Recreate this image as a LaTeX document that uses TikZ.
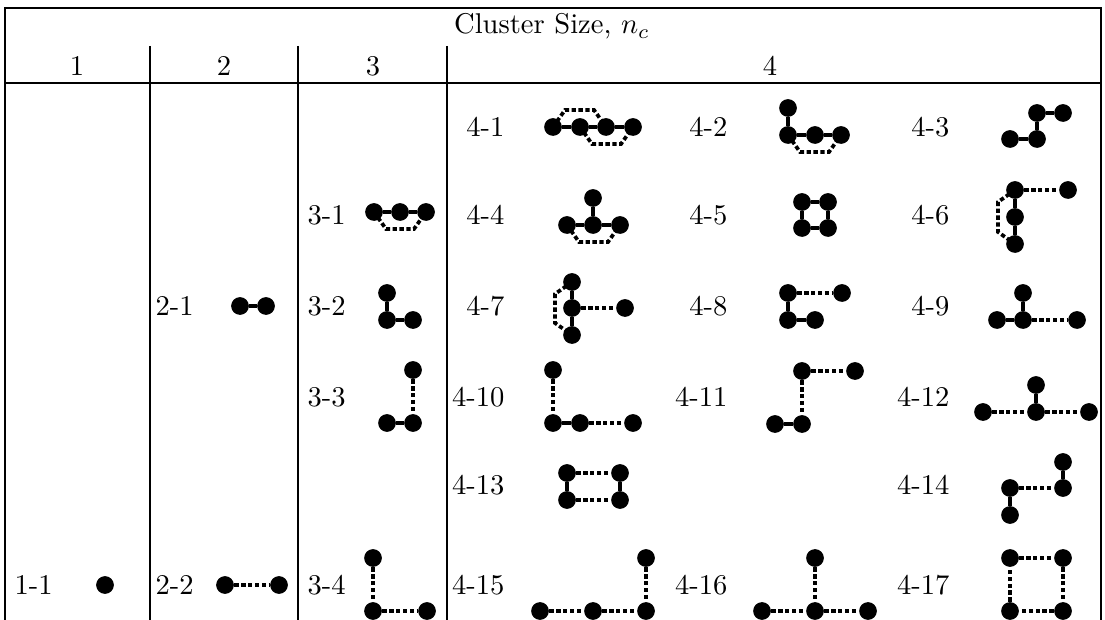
\documentclass[tikz,border=0pt]{standalone}
\usetikzlibrary{calc}
\begin{document}
\begin{tikzpicture}[x=0.35pt,y=-0.35pt,
  site/.style={circle,fill=black,inner sep=0pt,minimum size=6.2pt},
  nn/.style={line width=1.5pt},
  nnn/.style={line width=1.3pt,dash pattern=on 1.5pt off 0.9pt},
  rulestyle/.style={line width=0.9pt},
  lab/.style={inner sep=0pt,font=\fontsize{10}{12}\selectfont}]
\useasboundingbox (0,0) rectangle (1105,620);
% frame
\coordinate (tl) at (5,8); \coordinate (tr) at (1101,8);
\coordinate (bl) at (5,620); \coordinate (br) at (1101,620);
\coordinate (hl) at (5,83); \coordinate (hr) at (1101,83);
\draw[rulestyle] (bl) -- (tl) -- (tr) -- (br);
\draw[rulestyle] (hl) -- (hr);
\foreach \x/\n in {150/a,298/b,447/c}{
  \coordinate (s\n t) at (\x,46); \coordinate (s\n b) at (\x,620);
  \draw[rulestyle] (s\n t) -- (s\n b);}
% header
\node[lab,anchor=base] (title) at (552,34) {Cluster Size, $n_c$};
\node[lab] (h1) at (77,66) {1};
\node[lab] (h2) at (224,66) {2};
\node[lab] (h3) at (373,66) {3};
\node[lab] (h4) at (770,66) {4};
% labels
\node[lab,anchor=west] (l11) at (14,585) {1-1};
\node[lab,anchor=west] (l21) at (155,306) {2-1};
\node[lab,anchor=west] (l22) at (155,585) {2-2};
\node[lab,anchor=west] (l31) at (307,215) {3-1};
\node[lab,anchor=west] (l32) at (307,306) {3-2};
\node[lab,anchor=west] (l33) at (307,397) {3-3};
\node[lab,anchor=west] (l34) at (307,585) {3-4};
\node[lab,anchor=east] (l41) at (505,127) {4-1};
\node[lab,anchor=east] (l44) at (505,215) {4-4};
\node[lab,anchor=east] (l47) at (505,306) {4-7};
\node[lab,anchor=east] (l410) at (505,397) {4-10};
\node[lab,anchor=east] (l413) at (505,485) {4-13};
\node[lab,anchor=east] (l415) at (505,585) {4-15};
\node[lab,anchor=east] (l42) at (728,127) {4-2};
\node[lab,anchor=east] (l45) at (728,215) {4-5};
\node[lab,anchor=east] (l48) at (728,306) {4-8};
\node[lab,anchor=east] (l411) at (728,397) {4-11};
\node[lab,anchor=east] (l416) at (728,585) {4-16};
\node[lab,anchor=east] (l43) at (950,127) {4-3};
\node[lab,anchor=east] (l46) at (950,215) {4-6};
\node[lab,anchor=east] (l49) at (950,306) {4-9};
\node[lab,anchor=east] (l412) at (950,397) {4-12};
\node[lab,anchor=east] (l414) at (950,485) {4-14};
\node[lab,anchor=east] (l417) at (950,585) {4-17};
% 1-1
\node[site] (a11) at (105,585) {};
% 2-1
\node[site] (a21) at (240,306) {}; \node[site] (b21) at (266,306) {};
\draw[nn] (a21) -- (b21);
% 2-2
\node[site] (a22) at (225,585) {}; \node[site] (b22) at (279,585) {};
\draw[nnn] (a22) -- (b22);
% 3-1
\node[site] (a31) at (374,212) {}; \node[site] (b31) at (400,212) {}; \node[site] (c31) at (426,212) {};
\draw[nn] (a31) -- (b31); \draw[nn] (b31) -- (c31);
\draw[nnn] (a31.center) -- ($(a31)+(12,17)$) -- ($(c31)+(-12,17)$) -- (c31.center);
% 3-2
\node[site] (a32) at (387,293) {}; \node[site] (b32) at (387,320) {}; \node[site] (c32) at (413,320) {};
\draw[nn] (a32) -- (b32); \draw[nn] (b32) -- (c32);
% 3-3
\node[site] (a33) at (413,370) {}; \node[site] (b33) at (413,423) {}; \node[site] (c33) at (387,423) {};
\draw[nnn] (a33) -- (b33); \draw[nn] (c33) -- (b33);
% 3-4
\node[site] (a34) at (373,558) {}; \node[site] (b34) at (373,611) {}; \node[site] (c34) at (427,611) {};
\draw[nnn] (a34) -- (b34); \draw[nnn] (b34) -- (c34);
% 4-1
\node[site] (a41) at (553,127) {}; \node[site] (b41) at (580,127) {};
\node[site] (c41) at (606,127) {}; \node[site] (d41) at (633,127) {};
\draw[nn] (a41) -- (b41); \draw[nn] (b41) -- (c41); \draw[nn] (c41) -- (d41);
\draw[nnn] (a41.center) -- ($(a41)+(12,-17)$) -- ($(c41)+(-12,-17)$) -- (c41.center);
\draw[nnn] (b41.center) -- ($(b41)+(12,17)$) -- ($(d41)+(-12,17)$) -- (d41.center);
% 4-2
\node[site] (a42) at (788,108) {}; \node[site] (b42) at (788,135) {};
\node[site] (c42) at (815,135) {}; \node[site] (d42) at (841,135) {};
\draw[nn] (a42) -- (b42); \draw[nn] (b42) -- (c42); \draw[nn] (c42) -- (d42);
\draw[nnn] (b42.center) -- ($(b42)+(12,17)$) -- ($(d42)+(-12,17)$) -- (d42.center);
% 4-3
\node[site] (a43) at (1010,139) {}; \node[site] (b43) at (1037,139) {};
\node[site] (c43) at (1037,113) {}; \node[site] (d43) at (1063,113) {};
\draw[nn] (a43) -- (b43); \draw[nn] (b43) -- (c43); \draw[nn] (c43) -- (d43);
% 4-4
\node[site] (a44) at (593,198) {}; \node[site] (b44) at (567,225) {};
\node[site] (c44) at (593,225) {}; \node[site] (d44) at (620,225) {};
\draw[nn] (a44) -- (c44); \draw[nn] (b44) -- (c44); \draw[nn] (c44) -- (d44);
\draw[nnn] (b44.center) -- ($(b44)+(12,17)$) -- ($(d44)+(-12,17)$) -- (d44.center);
% 4-5
\node[site] (a45) at (802,202) {}; \node[site] (b45) at (828,202) {};
\node[site] (c45) at (802,228) {}; \node[site] (d45) at (828,228) {};
\draw[nn] (a45) -- (b45); \draw[nn] (b45) -- (d45); \draw[nn] (d45) -- (c45); \draw[nn] (c45) -- (a45);
% 4-6
\node[site] (a46) at (1015,190) {}; \node[site] (b46) at (1015,217) {};
\node[site] (c46) at (1015,244) {}; \node[site] (d46) at (1068,190) {};
\draw[nn] (a46) -- (b46); \draw[nn] (b46) -- (c46); \draw[nnn] (a46) -- (d46);
\draw[nnn] (a46.center) -- ($(a46)+(-17,12)$) -- ($(c46)+(-17,-12)$) -- (c46.center);
% 4-7
\node[site] (a47) at (572,282) {}; \node[site] (b47) at (572,308) {};
\node[site] (c47) at (572,335) {}; \node[site] (d47) at (625,308) {};
\draw[nn] (a47) -- (b47); \draw[nn] (b47) -- (c47); \draw[nnn] (b47) -- (d47);
\draw[nnn] (a47.center) -- ($(a47)+(-17,12)$) -- ($(c47)+(-17,-12)$) -- (c47.center);
% 4-8
\node[site] (a48) at (788,293) {}; \node[site] (b48) at (842,293) {};
\node[site] (c48) at (788,320) {}; \node[site] (d48) at (815,320) {};
\draw[nn] (a48) -- (c48); \draw[nn] (c48) -- (d48); \draw[nnn] (a48) -- (b48);
% 4-9
\node[site] (a49) at (1023,293) {}; \node[site] (b49) at (997,320) {};
\node[site] (c49) at (1023,320) {}; \node[site] (d49) at (1077,320) {};
\draw[nn] (b49) -- (c49); \draw[nn] (c49) -- (a49); \draw[nnn] (c49) -- (d49);
% 4-10
\node[site] (a410) at (553,370) {}; \node[site] (b410) at (553,423) {};
\node[site] (c410) at (580,423) {}; \node[site] (d410) at (633,423) {};
\draw[nnn] (a410) -- (b410); \draw[nn] (b410) -- (c410); \draw[nnn] (c410) -- (d410);
% 4-11
\node[site] (a411) at (802,371) {}; \node[site] (b411) at (855,371) {};
\node[site] (c411) at (802,424) {}; \node[site] (d411) at (775,424) {};
\draw[nnn] (a411) -- (b411); \draw[nnn] (a411) -- (c411); \draw[nn] (d411) -- (c411);
% 4-12
\node[site] (a412) at (1036,385) {}; \node[site] (b412) at (983,412) {};
\node[site] (c412) at (1036,412) {}; \node[site] (d412) at (1089,412) {};
\draw[nn] (a412) -- (c412); \draw[nnn] (b412) -- (c412); \draw[nnn] (c412) -- (d412);
% 4-13
\node[site] (a413) at (567,473) {}; \node[site] (b413) at (620,473) {};
\node[site] (c413) at (567,500) {}; \node[site] (d413) at (620,500) {};
\draw[nn] (a413) -- (c413); \draw[nn] (b413) -- (d413);
\draw[nnn] (a413) -- (b413); \draw[nnn] (c413) -- (d413);
% 4-14
\node[site] (a414) at (1063,462) {}; \node[site] (b414) at (1063,488) {};
\node[site] (c414) at (1010,488) {}; \node[site] (d414) at (1010,515) {};
\draw[nn] (a414) -- (b414); \draw[nnn] (c414) -- (b414); \draw[nn] (c414) -- (d414);
% 4-15
\node[site] (a415) at (540,611) {}; \node[site] (b415) at (593,611) {};
\node[site] (c415) at (646,611) {}; \node[site] (d415) at (646,558) {};
\draw[nnn] (a415) -- (b415); \draw[nnn] (b415) -- (c415); \draw[nnn] (d415) -- (c415);
% 4-16
\node[site] (a416) at (762,611) {}; \node[site] (b416) at (815,611) {};
\node[site] (c416) at (868,611) {}; \node[site] (d416) at (815,558) {};
\draw[nnn] (a416) -- (b416); \draw[nnn] (b416) -- (c416); \draw[nnn] (d416) -- (b416);
% 4-17
\node[site] (a417) at (1010,558) {}; \node[site] (b417) at (1063,558) {};
\node[site] (c417) at (1010,611) {}; \node[site] (d417) at (1063,611) {};
\draw[nnn] (a417) -- (b417); \draw[nnn] (b417) -- (d417); \draw[nnn] (d417) -- (c417); \draw[nnn] (c417) -- (a417);
\end{tikzpicture}
\end{document}
